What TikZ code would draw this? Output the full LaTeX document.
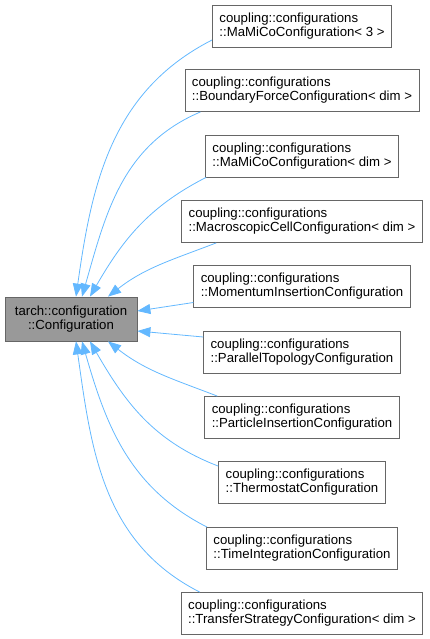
\documentclass[tikz,border=0pt]{standalone}
\usepackage{fontspec}
\setmainfont{Liberation Sans}
\usetikzlibrary{arrows.meta}
\definecolor{edgeblue}{HTML}{63B8FF}
\definecolor{boxline}{HTML}{666666}
\definecolor{basefill}{HTML}{999999}
\tikzset{
  classbox/.style={draw=boxline, fill=white, line width=0.8pt, align=left,
    inner xsep=7pt, inner ysep=0pt, minimum height=42pt,
    font=\fontsize{13.2}{14}\selectfont},
  basebox/.style={classbox, fill=basefill, align=center, minimum width=132pt, minimum height=44pt},
  edge/.style={draw=edgeblue, line width=0.8pt, -{Triangle[length=13pt,width=10pt]}}
}
\begin{document}
\begin{tikzpicture}[x=1pt, y=-1pt]
 \useasboundingbox (0,0) rectangle (429,639);

 % base class
 \node[basebox] (base) at (71,319) {tarch::configuration\\::Configuration};

 % derived classes
 \node[classbox] (mamico3) at (302,26) {coupling::configurations\\::MaMiCoConfiguration< 3 >};
 \node[classbox] (boundary) at (302,90.5) {coupling::configurations\\::BoundaryForceConfiguration< dim >};
 \node[classbox] (mamicodim) at (302,156) {coupling::configurations\\::MaMiCoConfiguration< dim >};
 \node[classbox] (macro) at (302,221.5) {coupling::configurations\\::MacroscopicCellConfiguration< dim >};
 \node[classbox] (momentum) at (302,286.5) {coupling::configurations\\::MomentumInsertionConfiguration};
 \node[classbox] (parallel) at (302,352) {coupling::configurations\\::ParallelTopologyConfiguration};
 \node[classbox] (particle) at (302,417.5) {coupling::configurations\\::ParticleInsertionConfiguration};
 \node[classbox] (thermo) at (302,482.5) {coupling::configurations\\::ThermostatConfiguration};
 \node[classbox] (timeint) at (302,548.5) {coupling::configurations\\::TimeIntegrationConfiguration};
 \node[classbox] (transfer) at (302,613.5) {coupling::configurations\\::TransferStrategyConfiguration< dim >};

 % inheritance edges, upper half
 \draw[edge] ([yshift=-14pt]mamico3.west) to[out=207, in=82] ([xshift=5pt]base.north);
 \draw[edge] ([xshift=16pt]boundary.south west) to[out=203, in=74] ([xshift=11pt]base.north);
 \draw[edge] ([xshift=1pt]mamicodim.south west) to[out=207, in=60] ([xshift=19pt]base.north);
 \draw[edge] ([xshift=35pt]macro.south west) to[out=201, in=38] ([xshift=37pt]base.north);
 \draw[edge] ([yshift=-16pt]momentum.west) -- ([yshift=8pt]base.east);

 % inheritance edges, lower half
 \draw[edge] ([yshift=15pt]parallel.west) -- ([yshift=-12pt]base.east);
 \draw[edge] ([xshift=13pt]particle.north west) to[out=159, in=-38] ([xshift=37pt]base.south);
 \draw[edge] ([yshift=-5pt]thermo.north west) to[out=159, in=-60] ([xshift=19pt]base.south);
 \draw[edge] ([xshift=1pt]timeint.north west) to[out=153, in=-74] ([xshift=11pt]base.south);
 \draw[edge] ([xshift=19pt]transfer.north west) to[out=153, in=-82] ([xshift=5pt]base.south);
\end{tikzpicture}
\end{document}
